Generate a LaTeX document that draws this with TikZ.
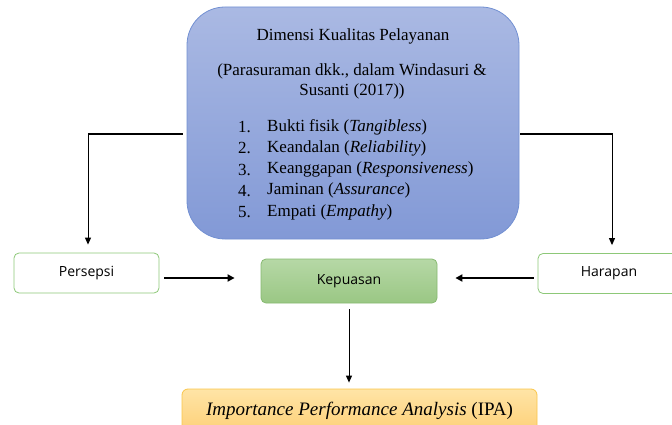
\documentclass[tikz,border=0pt]{standalone}
\usepackage{fontspec}
\setmainfont{Liberation Serif}
\newfontfamily\sansui{Open Sans}
\usetikzlibrary{arrows.meta}
\definecolor{biruA}{HTML}{AAB9E3}
\definecolor{biruB}{HTML}{8299D6}
\definecolor{biruC}{HTML}{7290D2}
\definecolor{hijauA}{HTML}{B6D8A6}
\definecolor{hijauB}{HTML}{9AC784}
\definecolor{hijauC}{HTML}{86B970}
\definecolor{hijauD}{HTML}{8DC878}
\definecolor{oranyeA}{HTML}{FFE4A6}
\definecolor{oranyeB}{HTML}{FDD077}
\definecolor{oranyeC}{HTML}{FAC64A}
\tikzset{
  serif/.style={font=\fontsize{17}{20}\selectfont, inner sep=0pt},
  sans/.style={font=\sansui\fontsize{14}{17}\selectfont},
  dimbox/.style={draw=biruC, line width=0.8pt, rounded corners=38pt, top color=biruA, bottom color=biruB},
  polos/.style={draw=hijauD, line width=0.8pt, rounded corners=5pt, fill=white},
  hasil/.style={draw=hijauC, line width=0.8pt, rounded corners=5pt, top color=hijauA, bottom color=hijauB},
  ipabox/.style={draw=oranyeC, line width=0.8pt, rounded corners=6pt, top color=oranyeA, bottom color=oranyeB},
  garis/.style={line width=1pt, -{Triangle[width=6pt,length=7pt]}},
  datar/.style={line width=1.8pt},
  tebal/.style={line width=2pt, -{Triangle[width=7pt,length=7pt]}}
}
\begin{document}
\begin{tikzpicture}[x=1pt,y=-1pt]
\useasboundingbox (0,0) rectangle (672,425);
\node[dimbox, minimum width=332pt, minimum height=232pt] (dimensi) at (353,123) {};
\node[polos, minimum width=145pt, minimum height=40pt] (persepsi) at (86.5,273) {};
\node[hasil, minimum width=176pt, minimum height=44pt] (kepuasan) at (349,281) {};
\node[polos, minimum width=142pt, minimum height=40pt] (harapan) at (609,273.5) {};
\node[ipabox, minimum width=355pt, minimum height=44pt] (ipa) at (359.5,411) {};
\draw[sans] (persepsi) node {Persepsi};
\draw[sans] (kepuasan) node {Kepuasan};
\draw[sans] (harapan) node {Harapan};
\draw[serif, font=\fontsize{19}{22}\selectfont] (ipa) node {\textit{Importance Performance Analysis} (IPA)};
\node[serif] (judul) at (353,36) {Dimensi Kualitas Pelayanan};
\node[serif, align=center] (sumber) at (352,81) {(Parasuraman dkk., dalam Windasuri \&\\Susanti (2017))};
\foreach \t [count=\i] in {{Bukti fisik (\textit{Tangibless})},{Keandalan (\textit{Reliability})},
  {Keanggapan (\textit{Responsiveness})},{Jaminan (\textit{Assurance})},{Empati (\textit{Empathy})}}{
	\node[serif, anchor=west] (no\i) at (238,106+21.2*\i) {\i.};
	\node[serif, anchor=west] (item\i) at (267,106+21.2*\i) {\t};
}
\coordinate (kiri) at (88,134);
\coordinate (kanan) at (612,134);
\draw[datar] ([xshift=-4pt]dimensi.west |- kiri) -- ([xshift=-0.5pt]kiri);
\draw[datar] ([xshift=1pt]dimensi.east |- kanan) -- ([xshift=0.5pt]kanan);
\draw[garis] (kiri) -- ([yshift=8pt]persepsi.north -| kiri);
\draw[garis] (kanan) -- ([yshift=8pt]harapan.north -| kanan);
\draw[tebal] ([xshift=5pt]persepsi.east |- 0,278) -- ([xshift=-26pt]kepuasan.west |- 0,278);
\draw[tebal] ([xshift=-4pt]harapan.west |- 0,278) -- ([xshift=18pt]kepuasan.east |- 0,278);
\draw[garis] ([yshift=-6pt]kepuasan.south) -- ([yshift=6pt]ipa.north -| kepuasan.south);
\end{tikzpicture}
\end{document}
